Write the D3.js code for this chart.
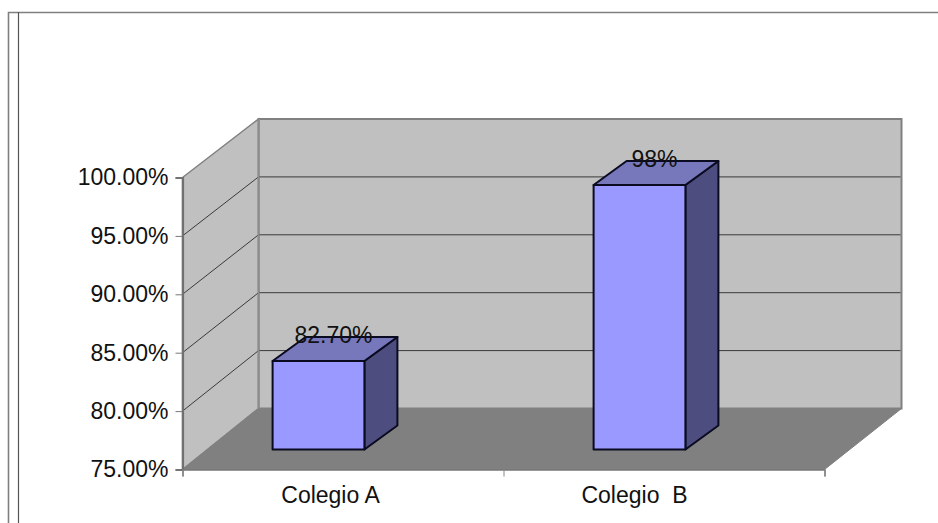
<!DOCTYPE html>
<html><head><meta charset="utf-8">
<script src="https://cdn.jsdelivr.net/npm/d3@7"></script>
<style>
html,body{margin:0;padding:0;background:#fff}
svg{display:block}
text{font-family:"Liberation Sans",Arial,sans-serif;fill:#111}
</style></head><body>
<svg id="c" width="938" height="523"></svg>
<script>
const categories = ["Colegio A", "Colegio  B"];
const seriesValues = [82.7, 98];
const valueLabels = ["82.70%", "98%"];
const axisTicks = [75, 80, 85, 90, 95, 100];

const svg = d3.select("#c");
const FS = 23;
const GRAY = "#808080";

// Frame
svg.append("path").attr("d","M8.5,523V12.5H938").attr("fill","none").attr("stroke",GRAY).attr("stroke-width",1.6);
svg.append("line").attr("x1",18.5).attr("x2",18.5).attr("y1",12).attr("y2",523).attr("stroke","#555").attr("stroke-width",1.2);

// Scales: front plane, back wall plane, bar plane
const yFront = d3.scaleLinear().domain([75,100]).range([469.5,177.5]);
const yBack  = d3.scaleLinear().domain([75,100]).range([408.5,119]);
const yBar   = d3.scaleLinear().domain([75,100]).range([449.5,162]);
const xFront = d3.scaleBand().domain(categories).range([182.5,824.5]);
const xBar   = d3.scaleBand().domain(categories).range([158,800]).paddingInner(0.714).paddingOuter(0.357);
const wallDX = 76;
const barDX = 33, barDY = -24;

const poly = pts => "M"+pts.map(p=>p.join(",")).join("L")+"Z";
const x0 = xFront.range()[0], x1 = xFront.range()[1];
const vTop = 100, vBase = 75;

// Back wall
svg.append("path").attr("d",poly([[x0+wallDX,yBack(vTop)],[x1+wallDX+1,yBack(vTop)],[x1+wallDX+1,yBack(vBase)],[x0+wallDX,yBack(vBase)]]))
  .attr("fill","#c0c0c0").attr("stroke",GRAY).attr("stroke-width",2);
// Side wall
svg.append("path").attr("d",poly([[x0,yFront(vTop)],[x0+wallDX,yBack(vTop)],[x0+wallDX,yBack(vBase)],[x0,yFront(vBase)]]))
  .attr("fill","#c0c0c0").attr("stroke",GRAY).attr("stroke-width",1.5);
// Floor
svg.append("path").attr("d",poly([[x0,yFront(vBase)],[x0+wallDX,yBack(vBase)],[x1+wallDX+1,yBack(vBase)],[x1,yFront(vBase)]]))
  .attr("fill",GRAY).attr("stroke",GRAY).attr("stroke-width",1);

// Gridlines
const grid = axisTicks.filter(t=>t>vBase && t<vTop);
svg.append("g").selectAll("path").data(grid).join("path")
  .attr("d",t=>`M${x0},${yFront(t)}L${x0+wallDX},${yBack(t)}L${x1+wallDX},${yBack(t)}`)
  .attr("fill","none").attr("stroke","#3a3a3a").attr("stroke-width",1);
svg.append("line").attr("x1",x0+wallDX).attr("x2",x0+wallDX).attr("y1",yBack(vTop)).attr("y2",yBack(vBase)).attr("stroke","#8c8c8c").attr("stroke-width",2);

// Axes
const yAxis = d3.axisLeft(yFront).tickValues(axisTicks).tickSize(7).tickPadding(7).tickFormat(d=>d.toFixed(2)+"%");
const gy = svg.append("g").attr("transform",`translate(${x0},0)`).call(yAxis);
gy.selectAll("path").attr("stroke","#707070").attr("stroke-width",2.2);
gy.selectAll("line").attr("stroke","#777").attr("stroke-width",1);
gy.selectAll("text").attr("font-size",FS).attr("fill","#111").attr("font-family",'"Liberation Sans",Arial,sans-serif');

const xAxis = d3.axisBottom(d3.scaleLinear().domain([0,categories.length]).range([x0,x1]))
  .tickValues(d3.range(categories.length+1)).tickSize(7).tickFormat("");
const gx = svg.append("g").attr("transform",`translate(0,${yFront(vBase)})`).call(xAxis);
gx.selectAll("path").attr("stroke","#777").attr("stroke-width",1.5);
gx.selectAll("line").attr("stroke","#888").attr("stroke-width",1);

svg.append("g").selectAll("text").data(categories).join("text")
  .attr("x",(d,i)=>xBar(d)+xBar.bandwidth()/2+(i===0?12:-5))
  .attr("y",503).attr("text-anchor","middle").attr("font-size",FS).style("white-space","pre").text(d=>d);

// Bars
const bars = categories.map((c,i)=>({c,v:seriesValues[i],l:valueLabels[i]}));
const g = svg.append("g").selectAll("g").data(bars).join("g")
  .attr("stroke","#0a0a20").attr("stroke-width",2).attr("stroke-linejoin","round");
g.append("path").attr("fill","#4d4d80").attr("d",d=>{const r=xBar(d.c)+xBar.bandwidth(),t=yBar(d.v),b=yBar(vBase);
  return poly([[r,t],[r+barDX,t+barDY],[r+barDX,b+barDY],[r,b]]);});
g.append("path").attr("fill","#7777bb").attr("d",d=>{const l=xBar(d.c),r=l+xBar.bandwidth(),t=yBar(d.v);
  return poly([[l,t],[l+barDX,t+barDY],[r+barDX,t+barDY],[r,t]]);});
g.append("rect").attr("fill","#9999ff").attr("x",d=>xBar(d.c)).attr("y",d=>yBar(d.v))
  .attr("width",xBar.bandwidth()).attr("height",d=>yBar(vBase)-yBar(d.v));

// Value labels
svg.append("g").selectAll("text").data(bars).join("text")
  .attr("x",d=>xBar(d.c)+xBar.bandwidth()/2+15)
  .attr("y",d=>yBar(d.v)-18).attr("text-anchor","middle").attr("font-size",FS).text(d=>d.l);
</script></body></html>
